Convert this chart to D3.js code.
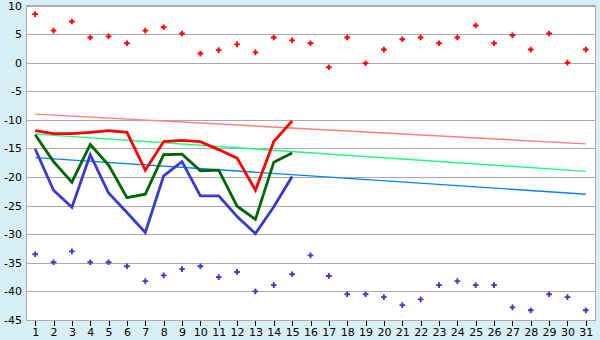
<!DOCTYPE html>
<html>
<head>
<meta charset="utf-8">
<script src="https://cdn.jsdelivr.net/npm/d3@7.9.0/dist/d3.min.js"></script>
<style>
  html, body { margin: 0; padding: 0; background: #d9eff6; }
  svg { display: block; }
  .tick text { font-family: 'DejaVu Sans', Verdana, sans-serif; font-size: 11px; fill: #000; }
</style>
</head>
<body>
<svg id="chart" width="600" height="340"></svg>
<script>
const days = d3.range(1, 32);

// daily maxima (red crosses) and minima (blue crosses)
const highs = [8.5, 5.6, 7.2, 4.4, 4.6, 3.4, 5.6, 6.2, 5.1, 1.6,
               2.2, 3.2, 1.8, 4.4, 3.9, 3.4, -0.8, 4.4, -0.1, 2.3,
               4.1, 4.4, 3.4, 4.4, 6.5, 3.4, 4.8, 2.3, 5.1, 0.0, 2.3];
const lows = [-33.5, -34.9, -33.0, -34.9, -34.9, -35.6, -38.2, -37.2, -36.1, -35.6,
              -37.5, -36.6, -40.0, -38.9, -37.0, -33.7, -37.3, -40.5, -40.5, -41.0,
              -42.4, -41.4, -38.9, -38.2, -38.9, -38.9, -42.8, -43.3, -40.5, -41.0, -43.3];

// measured series, days 1..15
const lineMax = [-11.9, -12.4, -12.4, -12.2, -11.9, -12.2, -18.8, -13.8, -13.6, -13.8,
                 -15.2, -16.7, -22.3, -13.8, -10.2];
const lineAvg = [-12.6, -17.3, -20.9, -14.3, -17.9, -23.6, -23.0, -16.1, -16.0, -18.9,
                 -18.8, -25.1, -27.4, -17.4, -15.8];
const lineMin = [-15.1, -22.3, -25.3, -16.1, -22.8, -26.2, -29.7, -19.8, -17.3, -23.3,
                 -23.3, -26.9, -29.9, -25.2, -19.9];

// trend lines: value at day 1 and day 31
const trendDays = [1, 31];
const trendMax = [-9.0, -14.2];
const trendAvg = [-12.5, -19.0];
const trendMin = [-16.6, -23.0];

const yTicks = d3.range(-45, 11, 5);

const svg = d3.select('#chart');
const plotLeft = 26, plotRight = 595, plotTop = 5.5, plotBottom = 320;

const x = d3.scalePoint().domain(days).range([plotLeft, plotRight]).padding(0.5);
const y = d3.scaleLinear().domain([-45, 10]).range([plotBottom, plotTop]);

svg.append('rect')
    .attr('x', plotLeft).attr('y', plotTop)
    .attr('width', plotRight - plotLeft).attr('height', plotBottom - plotTop)
    .attr('fill', '#fff');

// gridlines
svg.append('g')
    .attr('transform', `translate(${plotLeft},0)`)
    .call(d3.axisLeft(y).tickValues(yTicks).tickSize(-(plotRight - plotLeft)).tickFormat(''))
    .call((g) => g.select('.domain').remove())
    .call((g) => g.selectAll('line').attr('stroke', '#aaa').attr('shape-rendering', 'crispEdges'));

// y labels
svg.append('g')
    .attr('transform', `translate(${plotLeft},0)`)
    .call(d3.axisLeft(y).tickValues(yTicks).tickSize(0).tickPadding(4).tickFormat((d) => String(d)))
    .call((g) => g.select('.domain').remove());

// x axis
svg.append('g')
    .attr('transform', `translate(0,${plotBottom})`)
    .call(d3.axisBottom(x).tickSize(6).tickPadding(2))
    .call((g) => g.select('.domain').remove())
    .call((g) => g.selectAll('line').attr('stroke', '#000').attr('shape-rendering', 'crispEdges'));

svg.append('rect')
    .attr('x', plotLeft).attr('y', plotTop)
    .attr('width', plotRight - plotLeft).attr('height', plotBottom - plotTop)
    .attr('fill', 'none').attr('stroke', '#aaa')
    .attr('shape-rendering', 'crispEdges');

const line = d3.line().x((d) => x(d[0])).y((d) => y(d[1]));

function drawTrend(values, color) {
    svg.append('path')
        .attr('d', line(trendDays.map((d, i) => [d, values[i]])))
        .attr('fill', 'none')
        .attr('stroke', color)
        .attr('stroke-width', 1.4);
}
drawTrend(trendMax, '#ff8080');
drawTrend(trendAvg, '#1aff80');
drawTrend(trendMin, '#0a80ff');

function drawSeries(values, color) {
    svg.append('path')
        .attr('d', line(values.map((v, i) => [days[i], v])))
        .attr('fill', 'none')
        .attr('stroke', color)
        .attr('stroke-width', 2.8)
        .attr('stroke-linejoin', 'miter');
}
drawSeries(lineMin, '#3a3acc');
drawSeries(lineAvg, '#006400');
drawSeries(lineMax, '#ff0000');

const cross = d3.symbol().type(d3.symbolCross).size(18);

function drawMarkers(values, color) {
    svg.append('g').selectAll('path')
        .data(values)
        .join('path')
        .attr('transform', (v, i) => `translate(${x(days[i])},${y(v)})`)
        .attr('d', cross)
        .attr('fill', color);
}
drawMarkers(highs, '#ff0000');
drawMarkers(lows, '#3a3acc');
</script>
</body>
</html>
